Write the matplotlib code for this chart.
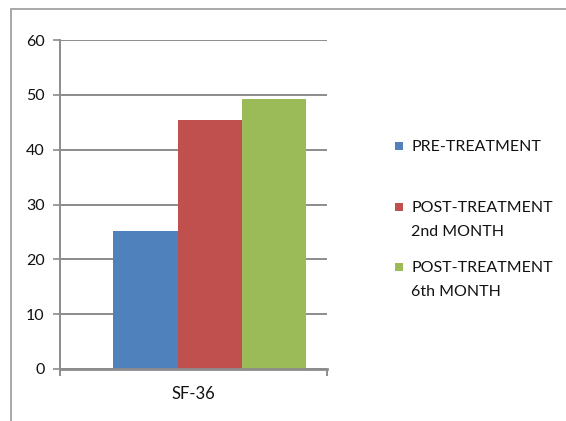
import matplotlib
matplotlib.use("Agg")
import matplotlib.pyplot as plt
from matplotlib.patches import Rectangle

plt.rcParams['font.family'] = ['Lato', 'DejaVu Sans']

category = "SF-36"
series = ["PRE-TREATMENT", "POST-TREATMENT\n2nd MONTH", "POST-TREATMENT\n6th MONTH"]
values = [25.1, 45.4, 49.3]
colors = ["#4f81bd", "#c0504d", "#9bbb59"]
yticks = [0, 10, 20, 30, 40, 50, 60]

W, H = 566, 421
fig = plt.figure(figsize=(W / 100, H / 100), dpi=100)

# outer chart border (left and top visible)
fig.patches.append(Rectangle((11 / W, -0.1), 1.2, (H - 9) / H + 0.1,
                             transform=fig.transFigure, fill=False,
                             edgecolor="#9a9a9a", linewidth=1.2))

ax = fig.add_axes([60 / W, 1 - 369 / H, (327 - 60) / W, (369 - 40) / H])

offsets = [-1, 0, 1]
for off, v, c in zip(offsets, values, colors):
    ax.bar(off, v, width=1.0, color=c, edgecolor="none", zorder=3)

ax.set_xlim(-2.33, 1.82)
ax.set_ylim(0, 60)
ax.set_yticks(yticks)
ax.yaxis.grid(True, color="#8c8c8c", linewidth=1.4, zorder=0)
ax.set_axisbelow(True)

for s in ["top", "right"]:
    ax.spines[s].set_visible(False)
ax.spines["left"].set_color("#8c8c8c")
ax.spines["left"].set_linewidth(1.4)
ax.spines["bottom"].set_color("#8c8c8c")
ax.spines["bottom"].set_linewidth(2.0)
ax.spines["bottom"].set_zorder(4)

ax.tick_params(axis="y", length=5, width=1.2, color="#8c8c8c", labelsize=11.5,
               labelcolor="#111111", pad=6)
ax.set_xticks([-2.33, 1.82])
ax.set_xticklabels(["", ""])
ax.tick_params(axis="x", which="major", length=5, width=1.4, color="#8c8c8c")
ax.set_xticks([(-2.33 + 1.82) / 2], minor=True)
ax.set_xticklabels([category], minor=True)
ax.tick_params(axis="x", which="minor", length=0, labelsize=12,
               labelcolor="#111111", pad=12)

# legend
lx = 395 / W
tops = [146, 207, 267]
for lab, c, ty in zip(series, colors, tops):
    fig.patches.append(Rectangle((lx, 1 - (ty + 4) / H), 8 / W, 8 / H,
                                 transform=fig.transFigure, facecolor=c,
                                 edgecolor="none"))
    fig.text(411 / W, 1 - (ty - 6) / H, lab, fontsize=11.5, va="top",
             ha="left", linespacing=1.9, color="#111111")

fig.savefig("out.png", dpi=100)
